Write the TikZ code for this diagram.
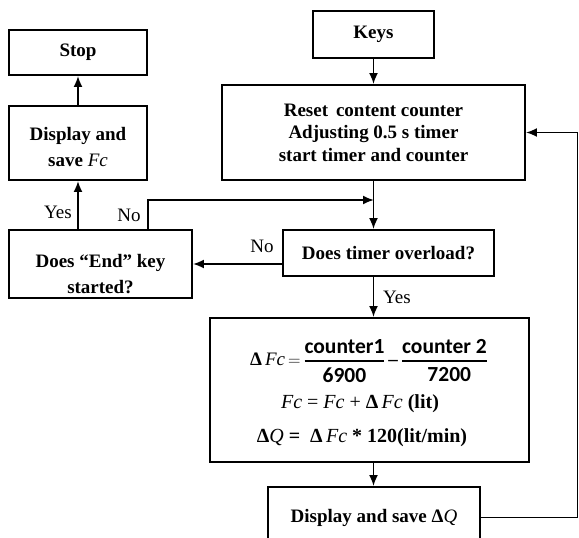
\documentclass[tikz,border=0pt]{standalone}
\usepackage{amsmath}
\usepackage{fontspec}
\setmainfont{Liberation Serif}
\newfontfamily\carl{Carlito}
\usetikzlibrary{arrows.meta}
\newcommand{\bigcarl}{\carl\fontsize{21.5}{24}\selectfont}
\begin{document}
\begin{tikzpicture}[x=1pt,y=-1pt,
  box/.style={draw, line width=1.9pt, inner sep=0pt, align=center,
    font=\fontsize{19}{22.5}\selectfont\bfseries},
  boxtext/.style={inner sep=0pt, align=center,
    font=\fontsize{19}{26}\selectfont\bfseries},
  arr/.style={line width=1.9pt, -{Latex[length=11pt,width=9pt]}},
  lbl/.style={inner sep=0pt, font=\fontsize{19}{20}\selectfont}]
\useasboundingbox (0,0) rectangle (579,538);
\begin{scope}
\clip (0,0) rectangle (579,538);

% left column
\node[box, minimum width=138pt, minimum height=45pt] (stop) at (78,52.5) {Stop};
\node[box, minimum width=138pt, minimum height=74pt] (dispfc) at (78,143) {};
\node[boxtext] (dispfctxt) at (78,146.5) {Display and\\save {\mdseries\itshape Fc}};
\node[box, minimum width=183pt, minimum height=68pt] (endk) at (100.5,264) {};
\node[boxtext] (endktxt) at (100.5,274) {Does “End” key\\started?};

% main column
\node[box, minimum width=121pt, minimum height=47pt] (keys) at (373.5,34.5) {Keys};
\node[box, minimum width=303pt, minimum height=95pt] (reset) at (373.5,132.5)
  {Reset\, content counter\\Adjusting 0.5 s timer\\start timer and counter};
\node[box, minimum width=211pt, minimum height=46pt] (timer) at (388.5,253) {Does timer overload?};
\node[box, minimum width=319pt, minimum height=144pt] (formula) at (369.5,390) {};
\node[box, minimum width=212pt, minimum height=61pt] (dispq) at (374,517.5)
  {Display and save Δ{\mdseries\itshape Q}};

% formulas inside the computation box
\node[inner sep=0pt, font=\fontsize{19}{20}\selectfont\bfseries] (f1) at (369,361)
  {$\displaystyle \mbox{Δ\,{\mdseries\itshape Fc}}\,{=}\,
   \genfrac{}{}{2pt}{}{\mbox{\bigcarl\bfseries counter1}}{\mbox{\bigcarl 6900}}
   \,\mbox{–}\,
   \genfrac{}{}{2pt}{}{\mbox{\bigcarl\bfseries counter 2}}{\mbox{\bigcarl\ \ 7200}}$};
\node[inner sep=0pt, font=\fontsize{20}{22}\selectfont] (f2) at (360,404)
  {\itshape Fc\upshape\ = \itshape Fc\upshape\ + \textbf{Δ}\,\itshape Fc\upshape\ \textbf{(lit)}};
\node[inner sep=0pt, font=\fontsize{20}{22}\selectfont\bfseries] (f3) at (362,438)
  {Δ{\mdseries\itshape Q} =\ \ Δ\,{\mdseries\itshape Fc} * 120(lit/min)};

% connectors
\draw[arr] (keys) -- (reset);
\draw[arr] (reset.south) -- (reset.south |- timer.north);
\draw[arr] (timer.south -| reset.south) -- (formula.north -| reset.south);
\draw[arr] (formula.south -| reset.south) -- (dispq.north -| reset.south);
\coordinate (rt) at (577.5,0);
\draw[arr] (dispq.east) -| (rt |- reset.east) -- (reset.east);
\draw[arr] (timer.west |- endk.east) -- (endk.east);
\coordinate (join) at (374,200);
\draw[arr] (endk.north -| dispfc.east) |- (join);
\draw[arr] (endk.north -| dispfc.south) -- (dispfc.south);
\draw[arr] (dispfc) -- (stop);

% branch labels
\node[lbl] (yes1) at (58,212) {Yes};
\node[lbl] (no1) at (129,215) {No};
\node[lbl] (no2) at (262,246) {No};
\node[lbl] (yes2) at (397,297) {Yes};
\end{scope}
\end{tikzpicture}
\end{document}
